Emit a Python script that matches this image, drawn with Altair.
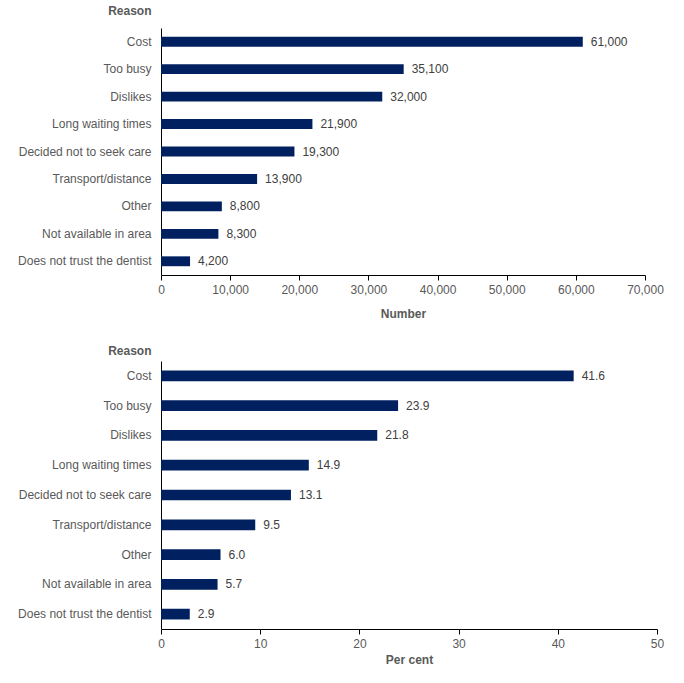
import altair as alt
import pandas as pd

# Reasons for not visiting a dentist
reasons = [
    "Cost",
    "Too busy\u00a0",
    "Dislikes\u00a0",
    "Long waiting times",
    "Decided not to seek care",
    "Transport/distance",
    "Other",
    "Not available in area",
    "Does not trust the dentist",
]
numbers = [61000, 35100, 32000, 21900, 19300, 13900, 8800, 8300, 4200]
percents = [41.6, 23.9, 21.8, 14.9, 13.1, 9.5, 6.0, 5.7, 2.9]

df = pd.DataFrame({"reason": reasons, "number": numbers, "percent": percents})

BAR = "#002060"
LABEL = "#595959"
FONT = "Liberation Sans"


def panel(field, x_title, domain_max, tick_step, axis_fmt, value_fmt,
          width, height, reason_y, title_pad):
    y = alt.Y(
        "reason:N",
        sort=reasons,
        scale=alt.Scale(paddingInner=0.64, paddingOuter=0.32),
        axis=alt.Axis(
            title="Reason",
            titleAngle=0,
            titleAlign="right",
            titleBaseline="alphabetic",
            titleX=-10,
            titleY=reason_y,
            ticks=False,
            labelPadding=10,
        ),
    )
    x = alt.X(
        f"{field}:Q",
        scale=alt.Scale(domain=[0, domain_max], nice=False),
        axis=alt.Axis(
            title=x_title,
            values=list(range(0, domain_max + 1, tick_step)),
            format=axis_fmt,
            grid=False,
            tickSize=5,
            labelPadding=4,
            labelFlush=False,
            titlePadding=title_pad,
        ),
    )
    bars = alt.Chart(df).mark_bar(color=BAR).encode(x=x, y=y)
    text = alt.Chart(df).mark_text(
        align="left", baseline="middle", dx=8, font=FONT, fontSize=12,
        color="#404040",
    ).encode(
        x=f"{field}:Q",
        y=alt.Y("reason:N", sort=reasons),
        text=alt.Text(f"{field}:Q", format=value_fmt),
    )
    return (bars + text).properties(width=width, height=height)


top = panel("number", "Number", 70000, 10000, ",d", ",.0f",
            484, 247, -14, 13)
bottom = panel("percent", "Per cent", 50, 10, "d", ".1f",
               496, 268, -7, 5)

chart = (
    alt.vconcat(top, bottom, spacing=25)
    .properties(padding={"left": 17, "top": 4, "right": 5, "bottom": 5})
    .configure_view(stroke=None)
    .configure_axis(
        labelFont=FONT,
        labelFontSize=12,
        labelColor=LABEL,
        titleFont=FONT,
        titleFontSize=12,
        titleFontWeight="bold",
        titleColor=LABEL,
        domainColor="#000000",
        tickColor="#000000",
        labelLimit=300,
    )
)

chart.save("out.html", embed_options={"renderer": "svg", "actions": False})
